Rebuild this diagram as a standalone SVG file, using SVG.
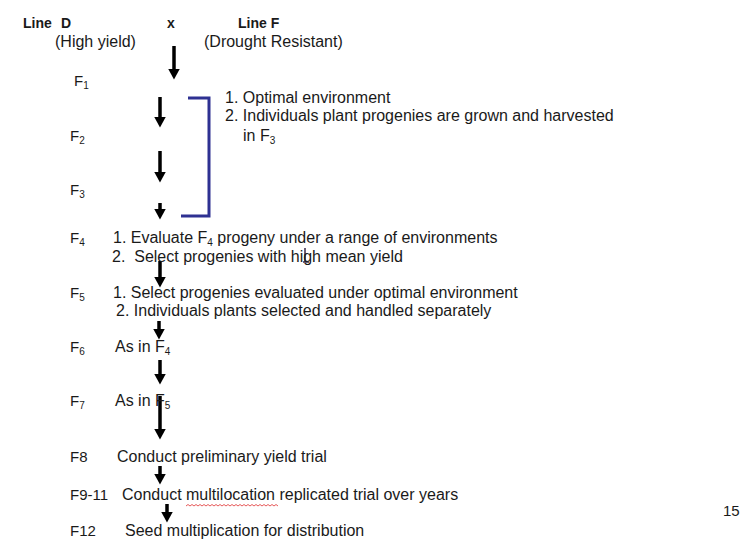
<svg xmlns="http://www.w3.org/2000/svg" width="750" height="542" viewBox="0 0 750 542">
<defs>
<marker id="ah" markerUnits="userSpaceOnUse" markerWidth="12" markerHeight="12" refX="0.5" refY="6" orient="auto" viewBox="0 0 12 12">
<path d="M0,0 L11,6 L0,12 Z" fill="#000"/>
</marker>
<style>
text{font-family:"Liberation Sans",Arial,sans-serif;font-size:16px;fill:#1a1a1a}
.b{font-weight:bold;font-size:14px}
.f{font-size:15px}
.s{font-size:10px}
.a{stroke:#000;stroke-width:3.5;fill:none;marker-end:url(#ah)}
</style>
</defs>
<rect width="750" height="542" fill="#fff"/>
<g id="header">
<text class="b" x="23" y="28">Line</text>
<text class="b" x="61" y="28">D</text>
<text class="b" x="167" y="28">x</text>
<text class="b" x="238" y="28">Line F</text>
<text x="55" y="47">(High yield)</text>
<text x="204" y="47">(Drought Resistant)</text>
</g>
<g id="connectors">
<line class="a" x1="174" y1="46" x2="174" y2="69"/>
<line class="a" x1="160" y1="97" x2="160" y2="117"/>
<line class="a" x1="160" y1="151" x2="160" y2="172"/>
<line class="a" x1="160" y1="203" x2="160" y2="209"/>
<line class="a" x1="160" y1="261" x2="160" y2="277"/>
<line class="a" x1="159" y1="321" x2="159" y2="329"/>
<line class="a" x1="160" y1="360" x2="160" y2="374"/>
<line class="a" x1="160" y1="396" x2="160" y2="429"/>
<line class="a" x1="160" y1="466" x2="160" y2="474"/>
<line class="a" x1="167" y1="504" x2="167" y2="512"/>
<path d="M188,98 H209 V216 H181" stroke="#2E3192" stroke-width="3" fill="none"/>
<path d="M305,248 V262 M303,262 H309" stroke="#3a2a4a" stroke-width="1.5" fill="none"/>
</g>
<g id="F1"><text class="f" x="74" y="86">F<tspan class="s" dy="3">1</tspan></text></g>
<g id="F2"><text class="f" x="70" y="141">F<tspan class="s" dy="3">2</tspan></text></g>
<g id="F3"><text class="f" x="70" y="195">F<tspan class="s" dy="3">3</tspan></text></g>
<g id="note1">
<text x="225" y="103">1. Optimal environment</text>
<text x="225" y="121">2. Individuals plant progenies are grown and harvested</text>
<text x="243" y="141">in F<tspan class="s" dy="3">3</tspan></text>
</g>
<g id="F4">
<text class="f" x="70" y="243">F<tspan class="s" dy="3">4</tspan></text>
<text x="113" y="243">1. Evaluate F<tspan class="s" dy="3">4</tspan><tspan dy="-3"> progeny under a range of environments</tspan></text>
<text x="112" y="262" xml:space="preserve">2.  Select progenies with high mean yield</text>
</g>
<g id="F5">
<text class="f" x="70" y="298">F<tspan class="s" dy="3">5</tspan></text>
<text x="113" y="298">1. Select progenies evaluated under optimal environment</text>
<text x="116" y="316">2. Individuals plants selected and handled separately</text>
</g>
<g id="F6">
<text class="f" x="70" y="352">F<tspan class="s" dy="3">6</tspan></text>
<text x="115" y="352">As in F<tspan class="s" dy="3">4</tspan></text>
</g>
<g id="F7">
<text class="f" x="70" y="406">F<tspan class="s" dy="3">7</tspan></text>
<text x="115" y="406">As in F<tspan class="s" dy="3">5</tspan></text>
</g>
<g id="F8">
<text class="f" x="70" y="462">F8</text>
<text x="117" y="462">Conduct preliminary yield trial</text>
</g>
<g id="F9-11">
<text class="f" x="70" y="500">F9-11</text>
<text x="122" y="500">Conduct multilocation replicated trial over years</text>
<path d="M186,506 l2,-1.5 l2,1.5 l2,-1.5 l2,1.5 l2,-1.5 l2,1.5 l2,-1.5 l2,1.5 l2,-1.5 l2,1.5 l2,-1.5 l2,1.5 l2,-1.5 l2,1.5 l2,-1.5 l2,1.5 l2,-1.5 l2,1.5 l2,-1.5 l2,1.5 l2,-1.5 l2,1.5 l2,-1.5 l2,1.5 l2,-1.5 l2,1.5 l2,-1.5 l2,1.5 l2,-1.5 l2,1.5 l2,-1.5 l2,1.5 l2,-1.5 l2,1.5 l2,-1.5 l2,1.5 l2,-1.5 l2,1.5 l2,-1.5 l2,1.5 l2,-1.5 l2,1.5 l2,-1.5 l2,1.5 l2,-1.5 l2,1.5" stroke="#e03030" stroke-width="0.8" fill="none"/>
</g>
<g id="F12">
<text class="f" x="70" y="536">F12</text>
<text x="125" y="536">Seed multiplication for distribution</text>
</g>
<g id="page"><text class="f" x="723" y="516">15</text></g>
</svg>
